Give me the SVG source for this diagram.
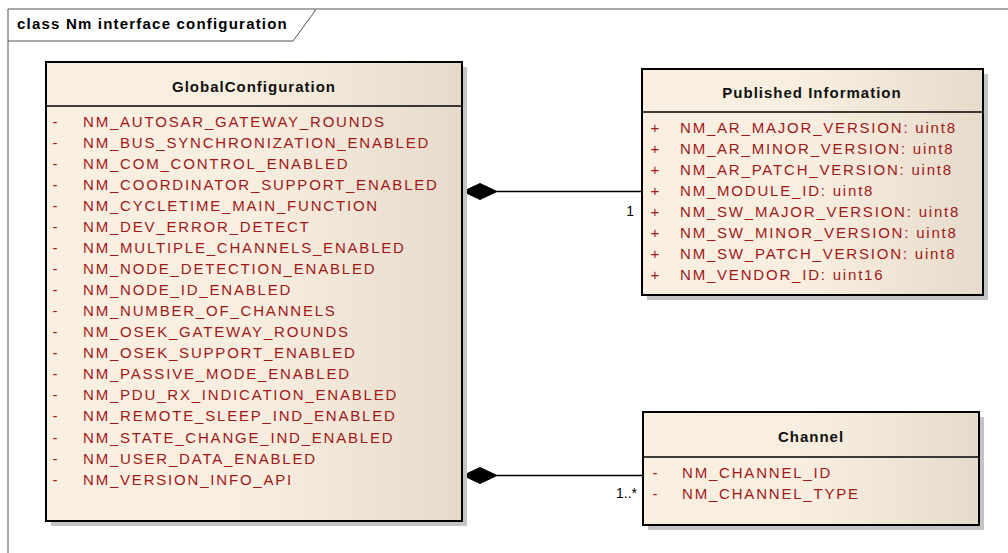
<svg xmlns="http://www.w3.org/2000/svg" width="1008" height="553" viewBox="0 0 1008 553">
<defs>
<linearGradient id="fill" x1="0" y1="0" x2="1" y2="0">
<stop offset="0" stop-color="#FAF0E2"/>
<stop offset="0.5" stop-color="#F8EEDF"/>
<stop offset="1" stop-color="#E6DBCB"/>
</linearGradient>
</defs>
<style>
.frame{fill:none;stroke:#555;stroke-width:1}
.box{fill:url(#fill);stroke:#000;stroke-width:2}
.shadow{fill:#C4C4C4}
.sep{stroke:#000;stroke-width:1.5}
.title{font-family:"Liberation Sans",Arial,sans-serif;font-size:15px;font-weight:bold;fill:#000;letter-spacing:1.2px}
.head{font-family:"Liberation Sans",Arial,sans-serif;font-size:15px;font-weight:bold;fill:#111;letter-spacing:1px;text-anchor:middle}
.attr{font-family:"Liberation Sans",Arial,sans-serif;font-size:15px;fill:#A01818;letter-spacing:1.8px}
.vis{font-family:"Liberation Sans",Arial,sans-serif;font-size:15px;fill:#A01818;text-anchor:middle}
.line{stroke:#000;stroke-width:1.5;fill:none}
.diamond{fill:#000;stroke:#000;stroke-width:1}
.mult{font-family:"Liberation Sans",Arial,sans-serif;font-size:14px;fill:#000;text-anchor:end}
</style>
<rect width="1008" height="553" fill="#fff"/>
<g id="frame">
<path class="frame" d="M8,553 V9 H1008"/>
<path class="frame" d="M8,41 H293 L315,11 V9"/>
<text class="title" x="17" y="29">class Nm interface configuration</text>
</g>
<g id="connectors">
<line class="line" x1="497" y1="191.5" x2="642" y2="191.5"/>
<polygon class="diamond" points="463,191.5 480,183.5 497,191.5 480,199.5"/>
<text class="mult" x="634" y="216">1</text>
<line class="line" x1="497" y1="475.5" x2="643" y2="475.5"/>
<polygon class="diamond" points="463,475.5 480,467.5 497,475.5 480,483.5"/>
<text class="mult" x="637" y="498">1..*</text>
</g>
<g id="GlobalConfiguration">
<rect class="shadow" x="51" y="67" width="416" height="459"/>
<rect class="box" x="46" y="62" width="416" height="459"/>
<line class="sep" x1="46" y1="106" x2="462" y2="106"/>
<text class="head" x="254" y="92">GlobalConfiguration</text>
<g>
<text class="vis" x="55" y="127">-</text><text class="attr" x="83" y="127">NM_AUTOSAR_GATEWAY_ROUNDS</text>
<text class="vis" x="55" y="148">-</text><text class="attr" x="83" y="148">NM_BUS_SYNCHRONIZATION_ENABLED</text>
<text class="vis" x="55" y="169">-</text><text class="attr" x="83" y="169">NM_COM_CONTROL_ENABLED</text>
<text class="vis" x="55" y="190">-</text><text class="attr" x="83" y="190">NM_COORDINATOR_SUPPORT_ENABLED</text>
<text class="vis" x="55" y="211">-</text><text class="attr" x="83" y="211">NM_CYCLETIME_MAIN_FUNCTION</text>
<text class="vis" x="55" y="232">-</text><text class="attr" x="83" y="232">NM_DEV_ERROR_DETECT</text>
<text class="vis" x="55" y="253">-</text><text class="attr" x="83" y="253">NM_MULTIPLE_CHANNELS_ENABLED</text>
<text class="vis" x="55" y="274">-</text><text class="attr" x="83" y="274">NM_NODE_DETECTION_ENABLED</text>
<text class="vis" x="55" y="295">-</text><text class="attr" x="83" y="295">NM_NODE_ID_ENABLED</text>
<text class="vis" x="55" y="316">-</text><text class="attr" x="83" y="316">NM_NUMBER_OF_CHANNELS</text>
<text class="vis" x="55" y="337">-</text><text class="attr" x="83" y="337">NM_OSEK_GATEWAY_ROUNDS</text>
<text class="vis" x="55" y="358">-</text><text class="attr" x="83" y="358">NM_OSEK_SUPPORT_ENABLED</text>
<text class="vis" x="55" y="379">-</text><text class="attr" x="83" y="379">NM_PASSIVE_MODE_ENABLED</text>
<text class="vis" x="55" y="400">-</text><text class="attr" x="83" y="400">NM_PDU_RX_INDICATION_ENABLED</text>
<text class="vis" x="55" y="421">-</text><text class="attr" x="83" y="421">NM_REMOTE_SLEEP_IND_ENABLED</text>
<text class="vis" x="55" y="443">-</text><text class="attr" x="83" y="443">NM_STATE_CHANGE_IND_ENABLED</text>
<text class="vis" x="55" y="464">-</text><text class="attr" x="83" y="464">NM_USER_DATA_ENABLED</text>
<text class="vis" x="55" y="485">-</text><text class="attr" x="83" y="485">NM_VERSION_INFO_API</text>
</g>
</g>
<g id="PublishedInformation">
<rect class="shadow" x="647" y="74" width="341" height="226"/>
<rect class="box" x="642" y="69" width="341" height="226"/>
<line class="sep" x1="642" y1="112" x2="983" y2="112"/>
<text class="head" x="812" y="98">Published Information</text>
<text class="vis" x="655" y="133">+</text><text class="attr" x="680" y="133">NM_AR_MAJOR_VERSION: uint8</text>
<text class="vis" x="655" y="154">+</text><text class="attr" x="680" y="154">NM_AR_MINOR_VERSION: uint8</text>
<text class="vis" x="655" y="175">+</text><text class="attr" x="680" y="175">NM_AR_PATCH_VERSION: uint8</text>
<text class="vis" x="655" y="196">+</text><text class="attr" x="680" y="196">NM_MODULE_ID: uint8</text>
<text class="vis" x="655" y="217">+</text><text class="attr" x="680" y="217">NM_SW_MAJOR_VERSION: uint8</text>
<text class="vis" x="655" y="238">+</text><text class="attr" x="680" y="238">NM_SW_MINOR_VERSION: uint8</text>
<text class="vis" x="655" y="259">+</text><text class="attr" x="680" y="259">NM_SW_PATCH_VERSION: uint8</text>
<text class="vis" x="655" y="280">+</text><text class="attr" x="680" y="280">NM_VENDOR_ID: uint16</text>
</g>
<g id="Channel">
<rect class="shadow" x="648" y="417" width="336" height="113"/>
<rect class="box" x="643" y="412" width="336" height="113"/>
<line class="sep" x1="643" y1="457" x2="979" y2="457"/>
<text class="head" x="811" y="442">Channel</text>
<text class="vis" x="655" y="478">-</text><text class="attr" x="682" y="478">NM_CHANNEL_ID</text>
<text class="vis" x="655" y="499">-</text><text class="attr" x="682" y="499">NM_CHANNEL_TYPE</text>
</g>
</svg>
